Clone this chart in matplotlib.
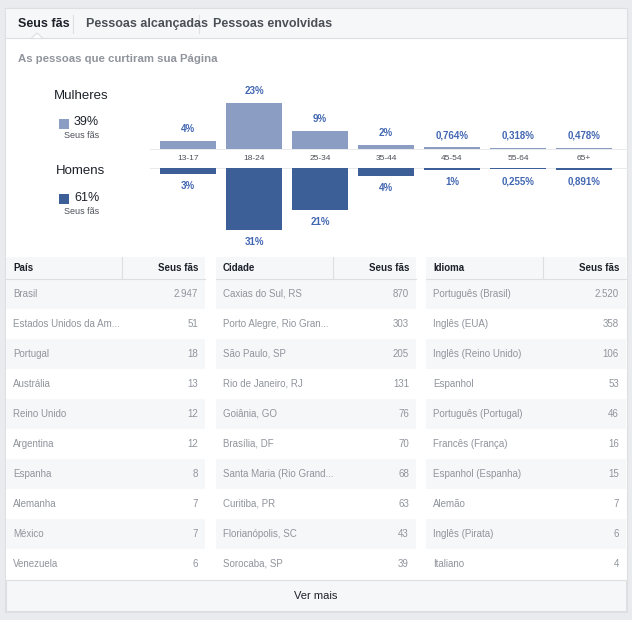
import matplotlib
matplotlib.use("Agg")
import matplotlib.pyplot as plt
from matplotlib.patches import Rectangle, Polygon

ages = ["13-17", "18-24", "25-34", "35-44", "45-54", "55-64", "65+"]
women = [4, 23, 9, 2, 0.764, 0.318, 0.478]
men = [3, 31, 21, 4, 1, 0.255, 0.891]
women_lbl = ["4%", "23%", "9%", "2%", "0,764%", "0,318%", "0,478%"]
men_lbl = ["3%", "31%", "21%", "4%", "1%", "0,255%", "0,891%"]

paises = ["Brasil", "Estados Unidos da Am...", "Portugal", "Austrália", "Reino Unido",
          "Argentina", "Espanha", "Alemanha", "México", "Venezuela"]
paises_v = ["2.947", "51", "18", "13", "12", "12", "8", "7", "7", "6"]
cidades = ["Caxias do Sul, RS", "Porto Alegre, Rio Gran...", "São Paulo, SP", "Rio de Janeiro, RJ",
           "Goiânia, GO", "Brasília, DF", "Santa Maria (Rio Grand...", "Curitiba, PR",
           "Florianópolis, SC", "Sorocaba, SP"]
cidades_v = ["870", "303", "205", "131", "76", "70", "68", "63", "43", "39"]
idiomas = ["Português (Brasil)", "Inglês (EUA)", "Inglês (Reino Unido)", "Espanhol",
           "Português (Portugal)", "Francês (França)", "Espanhol (Espanha)", "Alemão",
           "Inglês (Pirata)", "Italiano"]
idiomas_v = ["2.520", "358", "106", "53", "46", "16", "15", "7", "6", "4"]

W, H = 632, 620
fig = plt.figure(figsize=(W/100, H/100), dpi=100)
fig.patch.set_facecolor("#e9ebee")
ui = fig.add_axes([0, 0, 1, 1])
ui.set_xlim(0, W); ui.set_ylim(H, 0); ui.axis("off")

def rect(x0, y0, x1, y1, fc, ec="none", lw=0.8, z=1):
    ui.add_patch(Rectangle((x0, y0), x1-x0, y1-y0, fc=fc, ec=ec, lw=lw, zorder=z))

def txt(x, y, s, size=7, color="#4b4f56", ha="left", weight="normal"):
    ui.text(x, y, s, fontsize=size, color=color, ha=ha, va="center", weight=weight,
            family="Liberation Sans", zorder=5)

# card
rect(5, 8, 627, 612, "white", "#dddfe2")
rect(5, 8, 627, 38, "#f6f7f9", "#dddfe2")
ui.add_patch(Polygon([[31, 38.5], [37, 33], [43, 38.5]], fc="white", ec="#dddfe2", lw=0.8, zorder=2))
txt(18, 24, "Seus fãs", 9, "#1d2129", weight="bold")
txt(86, 24, "Pessoas alcançadas", 9, "#4b4f56", weight="bold")
txt(213, 24, "Pessoas envolvidas", 9, "#4b4f56", weight="bold")
ui.plot([73, 73], [15, 33], color="#dddfe2", lw=0.8)
ui.plot([199, 199], [15, 33], color="#dddfe2", lw=0.8)
txt(18, 59, "As pessoas que curtiram sua Página", 8.2, "#90949c", weight="bold")

light, dark = "#8b9dc3", "#3b5f96"
txt(54, 96, "Mulheres", 9.5, "#1d2129")
rect(59, 119, 69, 129, light)
txt(74, 122, "39%", 9, "#1d2129")
txt(64, 136, "Seus fãs", 6.5, "#4b4f56")
txt(56, 171, "Homens", 9.5, "#1d2129")
rect(59, 194, 69, 204, dark)
txt(74, 198, "61%", 9, "#1d2129")
txt(64, 211, "Seus fãs", 6.5, "#4b4f56")

# age band
rect(150, 149, 627, 168, "#f6f7f9", z=0.5)
ui.plot([150, 627], [149, 149], color="#e5e6e9", lw=0.6)
ui.plot([150, 627], [168, 168], color="#e5e6e9", lw=0.6)

x0, step, bw = 160, 66, 56
centers = [x0 + bw/2 + i*step for i in range(len(ages))]
axw = fig.add_axes([0, 1-149/H, 1, 89/H]); axw.set_xlim(0, W); axw.set_ylim(0, 44.5); axw.axis("off")
axm = fig.add_axes([0, 1-250/H, 1, 82/H]); axm.set_xlim(0, W); axm.set_ylim(41, 0); axm.axis("off")
axw.bar(centers, women, width=bw, color=light)
axm.bar(centers, men, width=bw, color=dark)
for c, a, w, m, wl, ml in zip(centers, ages, women, men, women_lbl, men_lbl):
    txt(c, 158.5, a, 6, "#4b4f56", ha="center")
    axw.text(c, max(w, 0.8) + 3.5, wl, ha="center", va="bottom", fontsize=7, color="#4267b2",
             weight="bold", family="Liberation Sans")
    axm.text(c, max(m, 0.8) + 3.5, ml, ha="center", va="top", fontsize=7, color="#4267b2",
             weight="bold", family="Liberation Sans")

# tables
rect(5, 252, 627, 580, "#e9ebee", z=0.8)
panels = [(6, 205, 122, "País", paises, paises_v),
          (216, 416, 333, "Cidade", cidades, cidades_v),
          (426, 626, 543, "Idioma", idiomas, idiomas_v)]
for xa, xb, xd, head, names, vals in panels:
    rect(xa, 257, xb, 579, "white", z=1)
    rect(xa, 257, xb, 279, "#f6f7f9", z=1.1)
    ui.plot([xa, xb], [279, 279], color="#dddfe2", lw=0.8, zorder=2)
    ui.plot([xd, xd], [257, 279], color="#dddfe2", lw=0.8, zorder=2)
    txt(xa+7, 268, head, 7, "#1d2129", weight="bold")
    txt(xb-7, 268, "Seus fãs", 7, "#1d2129", ha="right", weight="bold")
    for i, (n, v) in enumerate(zip(names, vals)):
        y0 = 279 + i*30
        if i % 2 == 0:
            rect(xa, y0, xb, y0+30, "#f6f7f9", z=1.1)
        txt(xa+7, y0+15, n, 7, "#90949c")
        txt(xb-7, y0+15, v, 7, "#90949c", ha="right")
rect(6, 580, 626, 611, "#f6f7f9", "#dddfe2", z=1)
txt(316, 596, "Ver mais", 8, "#1d2129", ha="center")

fig.savefig("out.png", dpi=100, facecolor=fig.get_facecolor())
